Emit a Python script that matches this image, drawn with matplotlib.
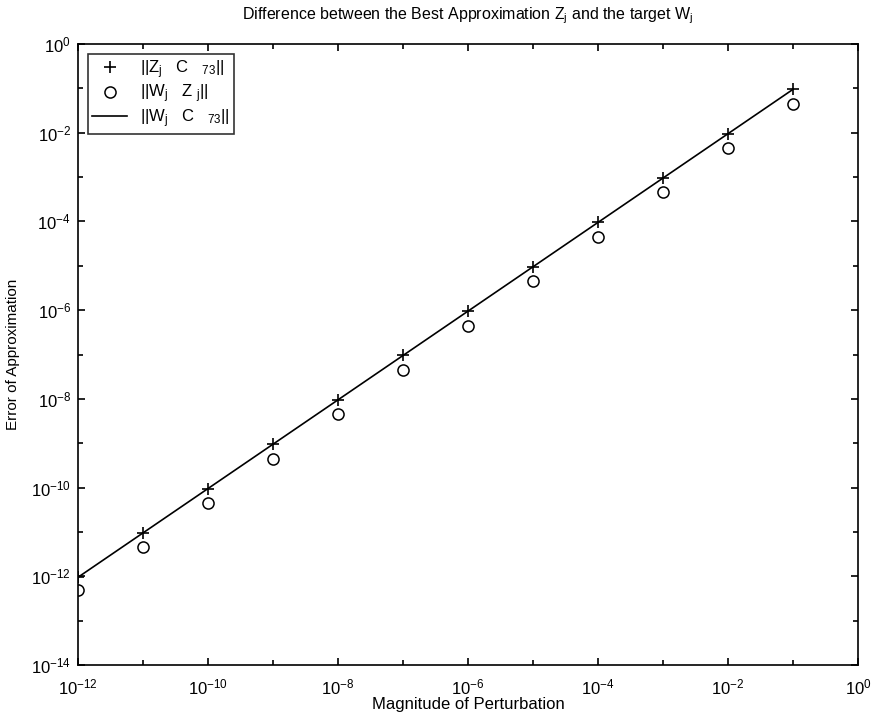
import matplotlib
matplotlib.use('Agg')
import matplotlib.pyplot as plt
import numpy as np
from matplotlib.ticker import FixedLocator, NullFormatter

plt.rcParams['font.family'] = ['Liberation Sans', 'DejaVu Sans']
plt.rcParams['mathtext.fontset'] = 'custom'
plt.rcParams['mathtext.rm'] = 'Liberation Sans'
plt.rcParams['mathtext.it'] = 'Liberation Sans'
plt.rcParams['mathtext.bf'] = 'Liberation Sans'

# perturbation magnitudes and approximation errors
perturbation = [1e-12, 1e-11, 1e-10, 1e-9, 1e-8, 1e-7, 1e-6,
                1e-5, 1e-4, 1e-3, 1e-2, 1e-1]
err_zc = [0.95e-12, 0.95e-11, 0.95e-10, 0.95e-9, 0.95e-8, 0.95e-7, 0.95e-6,
          0.95e-5, 0.95e-4, 0.95e-3, 0.95e-2, 0.95e-1]
err_wz = [0.49e-12, 0.45e-11, 0.45e-10, 0.45e-9, 0.45e-8, 0.45e-7, 0.45e-6,
          0.45e-5, 0.45e-4, 0.45e-3, 0.45e-2, 0.44e-1]
err_wc = err_zc

x_major = [10.0 ** e for e in range(-12, 1, 2)]
x_minor = [10.0 ** e for e in range(-11, 0, 2)]
y_major = [10.0 ** e for e in range(-14, 1, 2)]
y_minor = [10.0 ** e for e in range(-13, 0, 2)]

fig = plt.figure(figsize=(8.78, 7.19), dpi=100)
ax = fig.add_axes([78 / 878, 1 - 665 / 719, 780 / 878, 621 / 719])

ax.loglog(perturbation, err_zc, '+', color='black', markersize=9,
          markeredgewidth=1.2, label=r'$||Z_j\ \ \ C\ \ \ _{73}||$')
ax.loglog(perturbation, err_wz, 'o', color='black', markerfacecolor='none',
          markersize=8, markeredgewidth=1.1, label=r'$||W_j\ \ \ Z\ _j||$')
ax.loglog(perturbation, err_wc, '-', color='black', linewidth=1.2,
          label=r'$||W_j\ \ \ C\ \ \ _{73}||$')

ax.set_xlim(1e-12, 1e0)
ax.set_ylim(1e-14, 1e0)

ax.xaxis.set_major_locator(FixedLocator(x_major))
ax.xaxis.set_minor_locator(FixedLocator(x_minor))
ax.yaxis.set_major_locator(FixedLocator(y_major))
ax.yaxis.set_minor_locator(FixedLocator(y_minor))
ax.xaxis.set_minor_formatter(NullFormatter())
ax.yaxis.set_minor_formatter(NullFormatter())

ax.tick_params(which='both', direction='in', top=True, right=True,
               labelsize=12, width=1.2)
ax.tick_params(which='major', length=5)
ax.tick_params(which='minor', length=3.3)
ax.tick_params(axis='x', which='major', pad=9)
ax.tick_params(axis='y', which='major', pad=5)
for s in ax.spines.values():
    s.set_linewidth(1.2)

ax.set_xlabel('Magnitude of Perturbation', fontsize=12)
ax.xaxis.set_label_coords(0.5, -(704 - 665) / 621)
ax.xaxis.label.set_va('center')
ax.set_ylabel('Error of Approximation', fontsize=11)
ax.yaxis.set_label_coords(-(78 - 13) / 780, 0.5)
ax.yaxis.label.set_va('center')
ax.set_title(r'Difference between the Best Approximation $Z_j$ and the target $W_j$',
             fontsize=11.5, pad=18)

leg = ax.legend(loc='upper left', fontsize=12, frameon=True, fancybox=False,
                edgecolor='black', borderaxespad=0.6, handlelength=2.1,
                handletextpad=0.8, labelspacing=0.12, borderpad=0.25)
leg.get_frame().set_linewidth(1.2)

fig.savefig('out.png', dpi=100)
